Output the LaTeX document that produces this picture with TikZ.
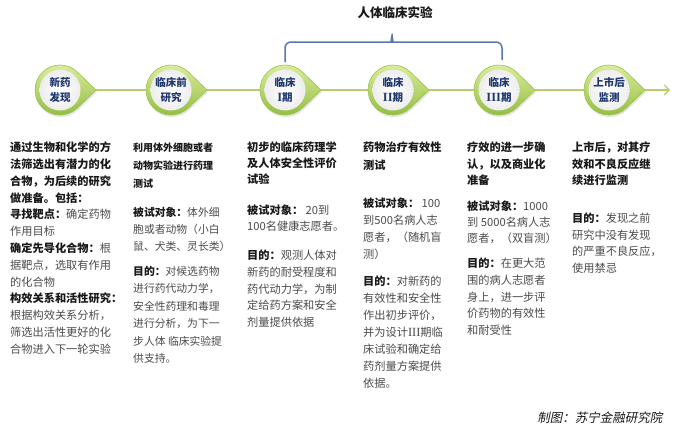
\documentclass[tikz,border=0pt]{standalone}
\usepackage{fontspec}
\setmainfont{Noto Sans CJK SC}
\newfontfamily\slantfont[FakeSlant=0.2]{Noto Sans CJK SC}
\newfontfamily\romfont{Liberation Serif}
\usetikzlibrary{calc,backgrounds,arrows.meta}
\definecolor{navy}{RGB}{31,56,110}
\definecolor{headc}{RGB}{25,25,25}
\definecolor{bodyc}{RGB}{75,75,75}
\definecolor{ringtop}{RGB}{222,238,160}
\definecolor{ringbot}{RGB}{145,188,62}
\definecolor{ringedge}{RGB}{155,195,75}
\definecolor{linec}{RGB}{180,206,112}
\definecolor{bracketc}{RGB}{88,120,175}
\newcommand\bh[1]{{\bfseries\color{headc}#1}}
\newcommand\rn[1]{{\romfont\bfseries\fontsize{12.5}{14.5}\selectfont #1}}
\tikzset{
  stage/.style={circle, minimum size=40pt, inner sep=0pt, align=center,
    text=navy, font=\bfseries\fontsize{10.5}{14.5}\selectfont},
  txt/.style={anchor=north west, inner sep=0pt, align=left, text=bodyc},
  head/.style={txt, text=headc, font=\bfseries\fontsize{11.2}{16.5}\selectfont},
  timeline/.style={draw=linec, line width=1.2pt},
  bracket/.style={draw=bracketc, line width=1.5pt},
}
\begin{document}
\begin{tikzpicture}[x=1pt,y=-1pt]
\useasboundingbox (0,0) rectangle (677,432);

% stage nodes
\node[stage] (s1) at (60,90) {新药\\发现};
\node[stage] (s2) at (171,90) {临床前\\研究};
\node[stage] (s3) at (285,90) {临床\\\rn{I}期};
\node[stage] (s4) at (393,90) {临床\\\rn{II}期};
\node[stage] (s5) at (499,90) {临床\\\rn{III}期};
\node[stage] (s6) at (609,90) {上市后\\监测};
\coordinate (tend) at (670,90);

\begin{pgfonlayer}{background}
  \fill[white] (0,0) rectangle (677,432);
  \draw[timeline, -{Straight Barb[length=5pt,width=10pt]}] (s1.center) -- (tend);
  \foreach \n in {s1,s2,s3,s4,s5,s6}{
    \fill[black!10] ($(\n.center)+(1,2)$) ++(46:25) arc[start angle=46, end angle=314, radius=25] -- ($(\n.center)+(37,2)$) -- cycle;
    \shade[top color=ringtop, bottom color=ringbot, draw=ringedge, line width=0.6pt]
      (\n.center) ++(46:25) arc[start angle=46, end angle=314, radius=25] -- ($(\n.center)+(36,0)$) -- cycle;
    \shade[inner color=white, outer color=black!7] (\n.center) circle[radius=20.5];
  }
\end{pgfonlayer}

% bracket
\coordinate (bl) at ($(s3.center)+(0,-28)$);
\coordinate (br) at ($(s5.center)+(3,-30)$);
\draw[bracket, rounded corners=6] (bl) |- (386,42) .. controls (390,42) and (392,38) .. (392,30)
  .. controls (392,38) and (394,42) .. (398,42) -| (br);
\node[text=headc, font=\bfseries\fontsize{12.5}{14}\selectfont] (lab) at (395,13) {人体临床实验};

% column 1
\node[txt, font=\fontsize{11.2}{16.8}\selectfont] (c1) at (10,141.8) {%
\bh{通过生物和化学的方}\\\bh{法筛选出有潜力的化}\\\bh{合物，为后续的研究}\\\bh{做准备。包括：}\\
\bh{寻找靶点：}确定药物\\作用目标\\
\bh{确定先导化合物：}根\\据靶点，选取有作用\\的化合物\\
\bh{构效关系和活性研究：}\\根据构效关系分析，\\筛选出活性更好的化\\合物进入下一轮实验};

% column 2
\node[head, font=\bfseries\fontsize{10}{18}\selectfont] (c2h) at (133,142.4) {利用体外细胞或者\\动物实验进行药理\\测试};
\node[txt, font=\fontsize{10.8}{16.8}\selectfont] (c2s) at (133,207) {\bh{被试对象：}体外细\\胞或者动物（小白\\鼠、犬类、灵长类）};
\node[txt, font=\fontsize{10.8}{17.4}\selectfont] (c2g) at (133,266) {\bh{目的：}对候选药物\\进行药代动力学，\\安全性药理和毒理\\进行分析，为下一\\步人体 临床实验提\\供支持。};

% column 3
\node[head, font=\bfseries\fontsize{11.2}{16}\selectfont] (c3h) at (247,141.8) {初步的临床药理学\\及人体安全性评价\\试验};
\node[txt, font=\fontsize{11.2}{16}\selectfont] (c3s) at (247,204.8) {\bh{被试对象：} 20到\\100名健康志愿者。};
\node[txt, font=\fontsize{11.2}{16.8}\selectfont] (c3g) at (247,249.8) {\bh{目的：}观测人体对\\新药的耐受程度和\\药代动力学，为制\\定给药方案和安全\\剂量提供依据};

% column 4
\node[head, font=\bfseries\fontsize{11.2}{18}\selectfont] (c4h) at (363,141.8) {药物治疗有效性\\测试};
\node[txt, font=\fontsize{11.2}{17}\selectfont] (c4s) at (363,197.8) {\bh{被试对象：} 100\\到500名病人志\\愿者，（随机盲\\测）};
\node[txt, font=\fontsize{11.2}{17}\selectfont] (c4g) at (363,275.8) {\bh{目的：}对新药的\\有效性和安全性\\作出初步评价，\\并为设计{\romfont\fontsize{12.5}{17}\selectfont III}期临\\床试验和确定给\\药剂量方案提供\\依据。};

% column 5
\node[head, font=\bfseries\fontsize{11.2}{16.5}\selectfont] (c5h) at (467,141.8) {疗效的进一步确\\认，以及商业化\\准备};
\node[txt, font=\fontsize{11.2}{16}\selectfont] (c5s) at (467,200.8) {\bh{被试对象：}1000\\到 5000名病人志\\愿者，（双盲测）};
\node[txt, font=\fontsize{11.2}{16.8}\selectfont] (c5g) at (467,257.8) {\bh{目的：}在更大范\\围的病人志愿者\\身上，进一步评\\价药物的有效性\\和耐受性};

% column 6
\node[head, font=\bfseries\fontsize{11.2}{16.5}\selectfont] (c6h) at (572,141.8) {上市后，对其疗\\效和不良反应继\\续进行监测};
\node[txt, font=\fontsize{11.2}{16.7}\selectfont] (c6g) at (572,212.8) {\bh{目的：}发现之前\\研究中没有发现\\的严重不良反应，\\使用禁忌};

% source
\node[anchor=east, text=headc, font=\slantfont\fontsize{12.5}{14}\selectfont] (src) at (666,418) {制图：苏宁金融研究院};
\end{tikzpicture}
\end{document}
